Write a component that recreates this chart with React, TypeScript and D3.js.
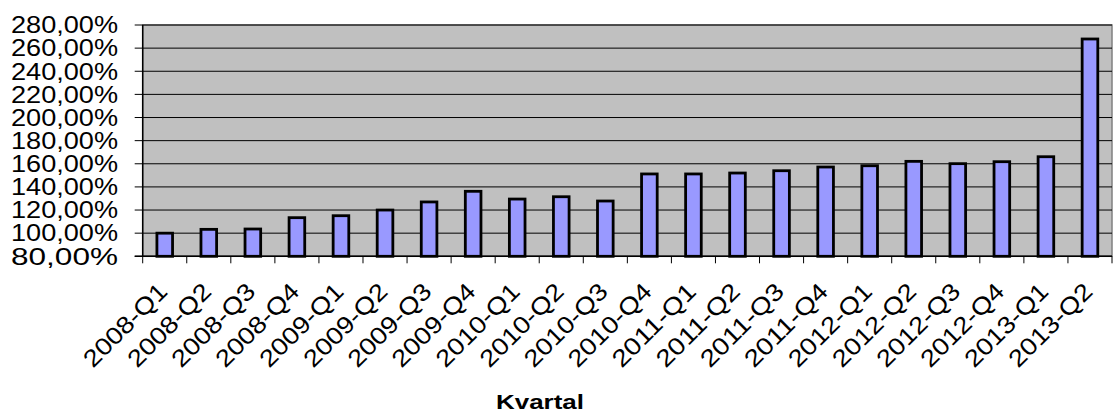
import * as d3 from "d3";

const quarters = [
  "2008-Q1", "2008-Q2", "2008-Q3", "2008-Q4",
  "2009-Q1", "2009-Q2", "2009-Q3", "2009-Q4",
  "2010-Q1", "2010-Q2", "2010-Q3", "2010-Q4",
  "2011-Q1", "2011-Q2", "2011-Q3", "2011-Q4",
  "2012-Q1", "2012-Q2", "2012-Q3", "2012-Q4",
  "2013-Q1", "2013-Q2",
];
const values = [
  100, 103.3, 103.6, 113.4, 115.1, 120.0, 127.0, 136.2, 129.5, 131.5, 127.8,
  151.2, 151.2, 152.0, 154.0, 157.2, 158.3, 162.1, 160.1, 161.8, 166.1, 267.9,
];
const yTicks = [80, 100, 120, 140, 160, 180, 200, 220, 240, 260, 280];
const xTitle = "Kvartal";

const W = 1113;
const H = 416;
const left = 142.7;
const right = 1112;
const top = 25;
const bottom = 256.3;
const font = "'Liberation Sans', Arial, sans-serif";

export default function App() {
  const x = d3.scaleBand<string>().domain(quarters).range([left, right]).paddingInner(0.645).paddingOuter(0.3225);
  const y = d3.scaleLinear().domain([80, 280]).range([bottom, top]);
  const fmt = (v: number) => v.toFixed(2).replace(".", ",") + "%";
  const step = x.step();

  return (
    <svg width={W} height={H} style={{ position: "absolute", left: 0, top: 0 }}>
      <rect x={0} y={0} width={W} height={H} fill="#fff" />
      <rect x={left} y={top} width={right - left} height={bottom - top} fill="#C0C0C0" stroke="#808080" strokeWidth={1.5} />
      {yTicks.map((t) => (
        <g key={t}>
          <line x1={left - 8} x2={right} y1={y(t)} y2={y(t)} stroke="#000" strokeWidth={1} />
          <text
            x={118}
            y={y(t)}
            dy="0.36em"
            textAnchor="end"
            fontFamily={font}
            fontSize={23}
            textLength={107}
            lengthAdjust="spacingAndGlyphs"
            fill="#000"
          >
            {fmt(t)}
          </text>
        </g>
      ))}
      {quarters.map((q, i) => (
        <line key={q} x1={left + i * step} x2={left + i * step} y1={bottom} y2={bottom + 7} stroke="#000" strokeWidth={1} />
      ))}
      <line x1={right} x2={right} y1={bottom} y2={bottom + 7} stroke="#000" strokeWidth={1} />
      {quarters.map((q, i) => (
        <rect
          key={q}
          x={x(q)}
          y={y(values[i])}
          width={x.bandwidth()}
          height={bottom - y(values[i])}
          fill="#9999FF"
          stroke="#000"
          strokeWidth={2.8}
        />
      ))}
      <line x1={left} x2={left} y1={top} y2={bottom} stroke="#000" strokeWidth={1.5} />
      <line x1={left - 8} x2={right} y1={bottom} y2={bottom} stroke="#000" strokeWidth={1.5} />
      {quarters.map((q) => {
        const cx = (x(q) ?? 0) + x.bandwidth() / 2;
        return (
          <text
            key={q}
            transform={`translate(${cx + 4},${293}) rotate(-45)`}
            textAnchor="end"
            fontFamily={font}
            fontSize={24}
            textLength={107}
            lengthAdjust="spacingAndGlyphs"
            fill="#000"
          >
            {q}
          </text>
        );
      })}
      <text
        x={540}
        y={409}
        textAnchor="middle"
        fontFamily={font}
        fontSize={19.5}
        fontWeight="bold"
        textLength={88}
        lengthAdjust="spacingAndGlyphs"
        fill="#000"
      >
        {xTitle}
      </text>
    </svg>
  );
}
